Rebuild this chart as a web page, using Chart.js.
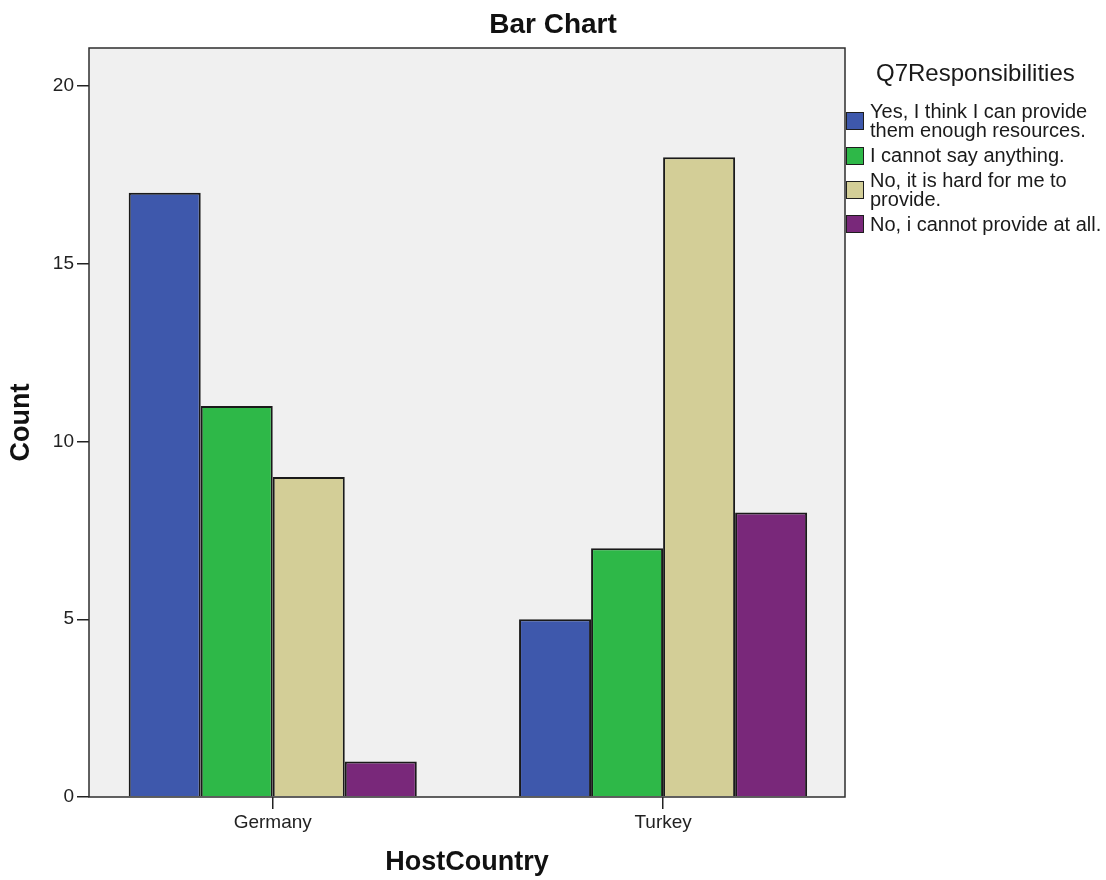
<!doctype html>
<html>
<head>
<meta charset="utf-8" />
<title>Bar Chart</title>
<script src="https://cdn.jsdelivr.net/npm/chart.js@4.4.1/dist/chart.umd.min.js"></script>
<style>
  body { margin: 0; background: #fff; overflow: hidden; }
  #wrap { position: relative; width: 1106px; height: 880px; }
  #legend { position: absolute; left: 846px; top: 0; width: 260px; font-family: "Liberation Sans", Arial, sans-serif; color: #1a1a1a; }
  #legend .ttl { position: absolute; left: 30px; top: 59px; font-size: 24px; line-height: 28px; white-space: nowrap; }
  #legend ul { position: absolute; left: 0; top: 102px; margin: 0; padding: 0; list-style: none; }
  #legend li { display: flex; align-items: center; box-sizing: border-box; min-height: 27px; padding-bottom: 3px; }
  #legend li .sw { flex: none; width: 16px; height: 16px; border: 1px solid #1e1e1e; margin-right: 6px; align-self: center; }
  #legend li .tx { font-size: 20px; line-height: 19.3px; width: 240px; }
</style>
</head>
<body>
<div id="wrap">
  <canvas id="canvas"></canvas>
  <div id="legend"><div class="ttl"></div><ul></ul></div>
</div>
<script>
const categories = ['Germany', 'Turkey'];
const seriesNames = [
  'Yes, I think I can provide them enough resources.',
  'I cannot say anything.',
  'No, it is hard for me to provide.',
  'No, i cannot provide at all.'
];
const yesValues = [17, 5];
const cannotSayValues = [11, 7];
const hardValues = [9, 18];
const cannotAtAllValues = [1, 8];
const yTicks = [0, 5, 10, 15, 20];
const colors = ['#3e58ac', '#2eb848', '#d3ce97', '#79287a'];
const legendTitle = 'Q7Responsibilities';

const allValues = [yesValues, cannotSayValues, hardValues, cannotAtAllValues];

function toPoints(values) {
  return values.map(function (v, i) { return { x: i, y: v }; });
}

const datasets = allValues.map(function (values, i) {
  return {
    label: seriesNames[i],
    data: toPoints(values),
    backgroundColor: colors[i],
    borderColor: '#1a1a1a',
    borderWidth: 2,
    categoryPercentage: 0.738,
    barPercentage: 1
  };
});

const plotFrame = {
  id: 'plotFrame',
  beforeDraw(chart) {
    const a = chart.chartArea, ctx = chart.ctx;
    ctx.save();
    ctx.fillStyle = '#f0f0f0';
    ctx.fillRect(a.left, a.top, a.right - a.left, a.bottom - a.top);
    ctx.restore();
  },
  afterDatasetsDraw(chart) {
    const a = chart.chartArea, ctx = chart.ctx;
    ctx.save();
    ctx.strokeStyle = '#2e2e2e';
    ctx.lineWidth = 1.5;
    ctx.strokeRect(a.left, a.top, a.right - a.left, a.bottom - a.top);
    ctx.restore();
  }
};

const tickFont = { family: '"Liberation Sans", Arial, sans-serif', size: 19 };
const boldFont = { family: '"Liberation Sans", Arial, sans-serif', size: 27, weight: 'bold' };

new Chart(document.getElementById('canvas'), {
  type: 'bar',
  data: { datasets: datasets },
  options: {
    responsive: true,
    maintainAspectRatio: false,
    animation: false,
    layout: { padding: 0 },
    plugins: {
      legend: { display: false },
      tooltip: { enabled: false },
      title: {
        display: true,
        text: 'Bar Chart',
        color: '#111',
        font: { family: '"Liberation Sans", Arial, sans-serif', size: 28, weight: 'bold', lineHeight: 1.2 },
        padding: { top: 8, bottom: 6.4 }
      }
    },
    scales: {
      x: {
        type: 'linear',
        offset: false,
        min: -0.4707,
        max: 1.466,
        border: { display: false },
        grid: { offset: false, drawOnChartArea: false, drawTicks: true, tickLength: 12, color: '#222', lineWidth: 1.5 },
        afterBuildTicks(scale) {
          scale.ticks = categories.map(function (c, i) { return { value: i }; });
        },
        ticks: {
          color: '#222',
          font: tickFont,
          padding: 2,
          maxRotation: 0,
          callback: function (value) { return categories[value]; }
        },
        title: { display: true, text: 'HostCountry', color: '#111', font: boldFont, padding: { top: 0, bottom: 1 } },
        afterFit(scale) { scale.height = 83; }
      },
      y: {
        min: 0,
        max: 21.07,
        border: { display: false },
        grid: { drawOnChartArea: false, drawTicks: true, tickLength: 12, color: '#222', lineWidth: 1.5 },
        afterBuildTicks(scale) {
          scale.ticks = yTicks.map(function (v) { return { value: v }; });
        },
        ticks: { color: '#222', font: tickFont, padding: 3 },
        title: { display: true, text: 'Count', color: '#111', font: boldFont, padding: { top: 5, bottom: 0 } },
        afterFit(scale) { scale.width = 89; }
      },
      pad: {
        type: 'linear',
        position: 'right',
        display: true,
        border: { display: false },
        grid: { display: false },
        ticks: { display: false },
        afterFit(scale) { scale.width = 1106 - 845; }
      }
    }
  },
  plugins: [plotFrame]
});

// HTML legend, built from the series names and colours
const legend = document.getElementById('legend');
legend.querySelector('.ttl').textContent = legendTitle;
const list = legend.querySelector('ul');
seriesNames.forEach(function (name, i) {
  const li = document.createElement('li');
  const sw = document.createElement('span');
  sw.className = 'sw';
  sw.style.background = colors[i];
  const tx = document.createElement('span');
  tx.className = 'tx';
  tx.textContent = name;
  li.appendChild(sw);
  li.appendChild(tx);
  list.appendChild(li);
});
</script>
</body>
</html>
